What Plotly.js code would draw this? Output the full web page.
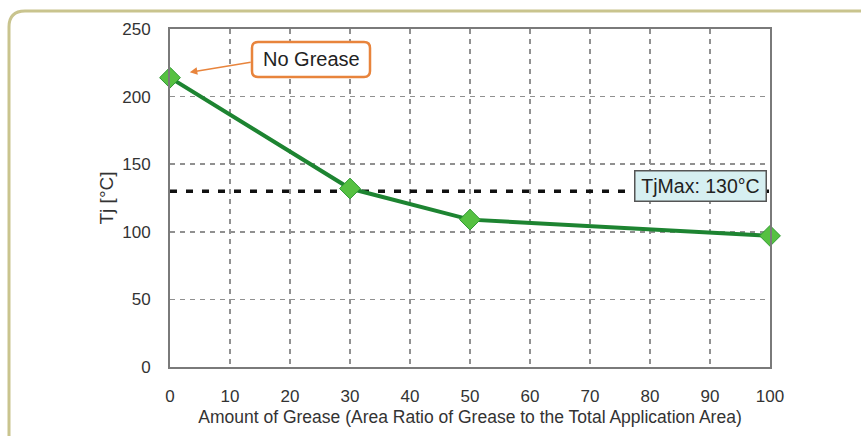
<!DOCTYPE html>
<html>
<head>
<meta charset="utf-8">
<script src="https://cdn.plot.ly/plotly-3.0.1.min.js"></script>
<style>
html,body{margin:0;padding:0;background:#fff;}
#chart{width:861px;height:436px;}
</style>
</head>
<body>
<div id="chart"></div>
<script>
// Data
const greaseAmount = [0, 30, 50, 100];
const tjValues = [214, 132, 109, 97];
const tjMax = 130;
const tjMaxLabel = 'TjMax: 130°C';
const noGreaseLabel = 'No Grease';
const xTicks = [0, 10, 20, 30, 40, 50, 60, 70, 80, 90, 100];
const yTicks = [0, 50, 100, 150, 200, 250];

// pixel helpers for decorations (plot area: x 170..770, y 29..367)
const L = 170, R = 770, T = 29, B = 367;
const px2paperX = p => (p - L) / (R - L);
const px2paperY = p => (B - p) / (B - T);

function framePath() {
  const x0 = px2paperX(9), y0 = px2paperY(11), x1 = px2paperX(880), yb = px2paperY(450);
  const rx = 16 / (R - L), ry = 16 / (B - T);
  return `M ${x0},${yb} L ${x0},${y0 - ry} Q ${x0},${y0} ${x0 + rx},${y0} L ${x1},${y0}`;
}
function roundRect(px0, py0, px1, py1, r) {
  const x0 = px2paperX(px0), x1 = px2paperX(px1), y0 = px2paperY(py0), y1 = px2paperY(py1);
  const rx = r / (R - L), ry = r / (B - T);
  return `M ${x0 + rx},${y0} L ${x1 - rx},${y0} Q ${x1},${y0} ${x1},${y0 - ry} L ${x1},${y1 + ry} Q ${x1},${y1} ${x1 - rx},${y1} L ${x0 + rx},${y1} Q ${x0},${y1} ${x0},${y1 + ry} L ${x0},${y0 - ry} Q ${x0},${y0} ${x0 + rx},${y0} Z`;
}

const traces = [
  {
    x: [xTicks[0], xTicks[xTicks.length - 1]],
    y: [tjMax, tjMax],
    mode: 'lines',
    line: {color: '#111', width: 3.5, dash: '7px,9px'},
    hoverinfo: 'skip',
    showlegend: false
  },
  {
    x: greaseAmount,
    y: tjValues,
    mode: 'lines+markers',
    line: {color: '#1d8431', width: 4},
    marker: {symbol: 'diamond', size: 16, color: '#56c141', line: {color: '#2f9a32', width: 1}},
    cliponaxis: false,
    showlegend: false
  }
];

const layout = {
  width: 861, height: 436,
  margin: {l: L, r: 861 - R, t: T, b: 436 - B},
  paper_bgcolor: '#fff',
  plot_bgcolor: '#fff',
  font: {family: 'Liberation Sans, Arial, sans-serif', color: '#333', size: 17},
  showlegend: false,
  xaxis: {
    range: [0, 100],
    tickvals: xTicks,
    ticktext: xTicks.map(String),
    showgrid: true,
    gridcolor: '#909090', gridwidth: 1.5, griddash: '5px,5px',
    zeroline: false,
    showline: true, linecolor: '#7a7a7a', linewidth: 2, mirror: true,
    ticks: '', ticklabelstandoff: 13,
    tickfont: {size: 17, color: '#333'},
    title: {text: 'Amount of Grease (Area Ratio of Grease to the Total Application Area)', font: {size: 17.5, color: '#333'}, standoff: 5}
  },
  yaxis: {
    range: [0, 250],
    tickvals: yTicks,
    showgrid: true,
    gridcolor: '#909090', gridwidth: 1.5, griddash: '5px,5px',
    zeroline: false,
    showline: true, linecolor: '#7a7a7a', linewidth: 2, mirror: true,
    ticks: '', ticklabelstandoff: 14,
    tickfont: {size: 17, color: '#333'},
    title: {text: 'Tj [°C]', font: {size: 19, color: '#333'}, standoff: 4}
  },
  shapes: [
    {type: 'path', xref: 'paper', yref: 'paper', path: framePath(), line: {color: '#c9c48e', width: 3}, layer: 'above'},
    {type: 'path', xref: 'paper', yref: 'paper', path: roundRect(252, 42, 370, 77, 6), fillcolor: '#fff', line: {color: '#e8843c', width: 2.5}, layer: 'above'}
  ],
  annotations: [
    {
      x: 3.3, y: 218, xref: 'x', yref: 'y',
      ax: 13.7, ay: 225.5, axref: 'x', ayref: 'y',
      text: '', showarrow: true, arrowhead: 2, arrowsize: 1, arrowwidth: 1.5, arrowcolor: '#e8843c'
    },
    {
      x: px2paperX(311), y: px2paperY(59.5), xref: 'paper', yref: 'paper',
      xanchor: 'center', yanchor: 'middle',
      text: noGreaseLabel, showarrow: false,
      font: {size: 20, color: '#222'}
    },
    {
      x: px2paperX(700), y: px2paperY(186), xref: 'paper', yref: 'paper',
      xanchor: 'center', yanchor: 'middle',
      text: tjMaxLabel, showarrow: false,
      font: {size: 19.5, color: '#222'},
      bgcolor: '#d6eff1', bordercolor: '#555', borderwidth: 1.5,
      width: 126, height: 25, borderpad: 2
    }
  ]
};

Plotly.newPlot('chart', traces, layout, {displayModeBar: false, staticPlot: true});
</script>
</body>
</html>
